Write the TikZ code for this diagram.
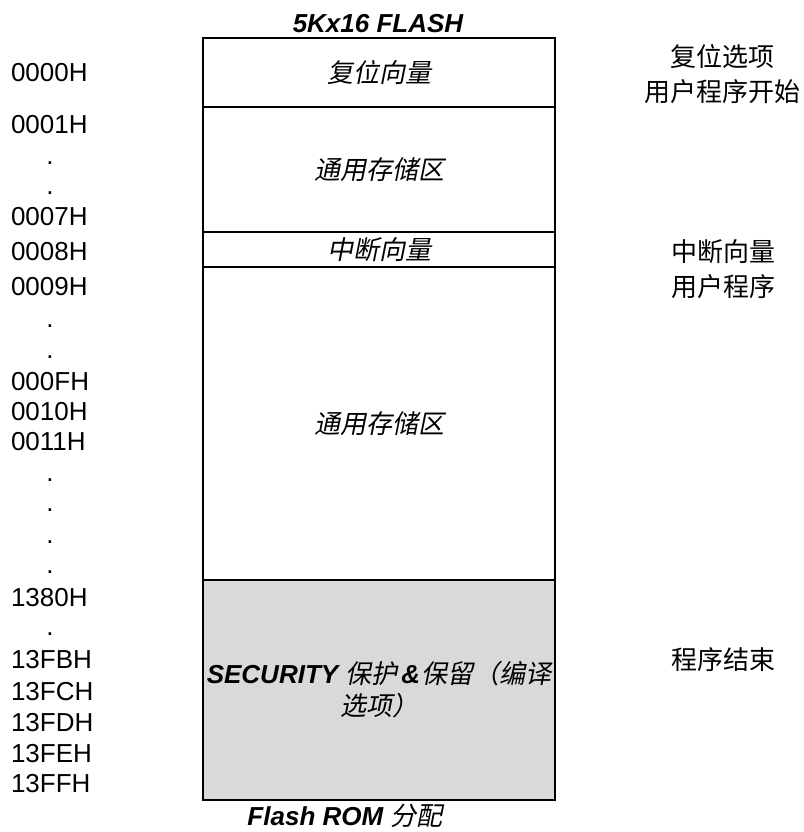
\documentclass[tikz,border=0pt]{standalone}
\usepackage{fontspec}
\setmainfont{Liberation Sans}
\newfontfamily\cjk{Noto Sans CJK SC}
\newfontfamily\cjkit[FakeSlant=0.2]{Noto Sans CJK SC}
\definecolor{secgray}{RGB}{217,217,217}
\begin{document}
\begin{tikzpicture}[x=1pt,y=-1pt,
  every node/.style={font=\fontsize{26}{31}\selectfont, inner sep=0pt, outer sep=0pt},
  region/.style={draw, line width=2.7pt, minimum width=352pt, anchor=north west, align=center},
  addr/.style={anchor=west},
  dotlbl/.style={anchor=base},
  note/.style={align=center, font=\fontsize{26}{35}\selectfont\cjk},
  ttl/.style={font=\fontsize{26}{31}\selectfont\bfseries\itshape}]
\useasboundingbox (0,0) rectangle (803,832);
% memory regions
\node[region, minimum height=69pt] (r1) at (203,38) {\cjkit 复位向量};
\node[region, minimum height=125pt] (r2) at (203,107) {\cjkit 通用存储区};
\node[region, minimum height=35pt] (r3) at (203,232) {\cjkit 中断向量};
\node[region, minimum height=313pt] (r4) at (203,267) {\cjkit 通用存储区};
\node[region, minimum height=220pt, fill=secgray, font=\fontsize{26}{32}\selectfont] (r5) at (203,580)
  {{\bfseries\itshape SECURITY} {\cjkit 保护}\hspace{4pt}{\bfseries\itshape\&}\hspace{1pt}{\cjkit 保留（编译}\\{\cjkit 选项）}};
% titles
\node[ttl] (title) at (378,24) {5Kx16 FLASH};
\node (caption) at (345,816) {{\bfseries\itshape Flash ROM} {\cjkit 分配}};
% addresses
\node[addr] (a0000) at (11,73) {0000H};
\node[addr] (a0001) at (11,125) {0001H};
\node[dotlbl] (d1) at (50,164.5) {.};
\node[dotlbl] (d2) at (50,194.5) {.};
\node[addr] (a0007) at (11,217) {0007H};
\node[addr] (a0008) at (11,252) {0008H};
\node[addr] (a0009) at (11,287) {0009H};
\node[dotlbl] (d3) at (50,327.5) {.};
\node[dotlbl] (d4) at (50,358.5) {.};
\node[addr] (a000F) at (11,382) {000FH};
\node[addr] (a0010) at (11,412) {0010H};
\node[addr] (a0011) at (11,442) {0011H};
\node[dotlbl] (d5) at (50,481.5) {.};
\node[dotlbl] (d6) at (50,511.5) {.};
\node[dotlbl] (d7) at (50,543.5) {.};
\node[dotlbl] (d8) at (50,573.5) {.};
\node[addr] (a1380) at (11,598) {1380H};
\node[dotlbl] (d9) at (50,635.5) {.};
\node[addr] (a13FB) at (11,660) {13FBH};
\node[addr] (a13FC) at (11,692) {13FCH};
\node[addr] (a13FD) at (11,723) {13FDH};
\node[addr] (a13FE) at (11,754) {13FEH};
\node[addr] (a13FF) at (11,784) {13FFH};
% notes on the right
\node[note] (n1) at (722,74) {复位选项\\用户程序开始};
\node[note] (n2) at (723,269.5) {中断向量\\用户程序};
\node[note] (n3) at (723,660) {程序结束};
\end{tikzpicture}
\end{document}
